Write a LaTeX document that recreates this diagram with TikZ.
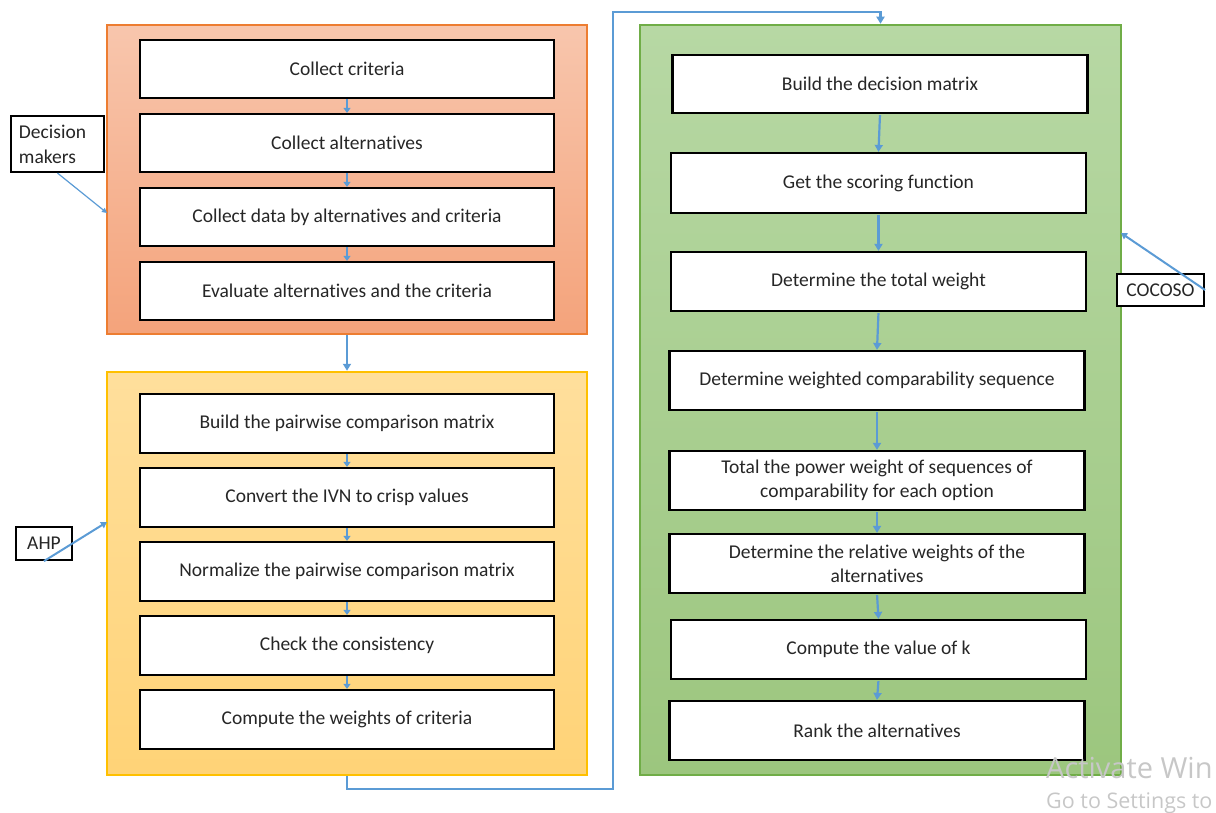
\documentclass[tikz,border=0pt]{standalone}
\usepackage{fontspec}
\setmainfont{Carlito}[Ligatures=NoCommon]
\newfontfamily\wmfont{Open Sans}
\usetikzlibrary{arrows.meta}
\definecolor{oline}{HTML}{ED7D31}
\definecolor{otop}{HTML}{F8C6AD}
\definecolor{obot}{HTML}{F4A37B}
\definecolor{yline}{HTML}{FFC000}
\definecolor{ytop}{HTML}{FFDF9C}
\definecolor{ybot}{HTML}{FFD377}
\definecolor{gline}{HTML}{70AD47}
\definecolor{gtop}{HTML}{B7D8A4}
\definecolor{gbot}{HTML}{9CC67E}
\definecolor{conn}{HTML}{5B9BD5}
\definecolor{txt}{HTML}{262626}
\tikzset{
  frame/.style={draw, line width=2.5pt, minimum width=480pt, inner sep=0pt},
  ibox/.style={draw=black, fill=white, line width=2.2pt, minimum width=414pt, minimum height=58pt,
    inner sep=0pt, text=txt, font=\fontsize{19.5}{24}\selectfont, align=center},
  lbox/.style={draw=black, fill=white, line width=2.2pt, inner sep=0pt, text=txt,
    font=\fontsize{19.5}{25}\selectfont},
  arr/.style={draw=conn, line width=2.2pt, -{Triangle[width=8pt,length=7pt]}},
  tarr/.style={draw=conn, line width=1.2pt, -{Triangle[width=5pt,length=5pt]}},
  wm/.style={anchor=base west, inner sep=0pt, text=black!22}
}
\begin{document}
\begin{tikzpicture}[x=1pt,y=-1pt]
\useasboundingbox (0,0) rectangle (1216,813);
% frames
\node[frame, draw=oline, top color=otop, bottom color=obot, minimum height=309pt] (fo) at (347,179.5) {};
\node[frame, draw=yline, top color=ytop, bottom color=ybot, minimum height=403pt] (fy) at (347,573.5) {};
\node[frame, draw=gline, top color=gtop, bottom color=gbot, minimum width=481pt, minimum height=750pt] (fg) at (880.5,400) {};
% orange steps
\node[ibox] (o1) at (347,69) {Collect criteria};
\node[ibox] (o2) at (347,143) {Collect alternatives};
\node[ibox] (o3) at (347,217) {Collect data by alternatives and criteria};
\node[ibox] (o4) at (347,291) {Evaluate alternatives and the criteria};
% yellow steps
\node[ibox, minimum height=59pt] (y1) at (347,423.5) {Build the pairwise comparison matrix};
\node[ibox, minimum height=59pt] (y2) at (347,497.5) {Convert the IVN to crisp values};
\node[ibox, minimum height=59pt] (y3) at (347,571.5) {Normalize the pairwise comparison matrix};
\node[ibox, minimum height=59pt] (y4) at (347,645.5) {Check the consistency};
\node[ibox, minimum height=59pt] (y5) at (347,719.5) {Compute the weights of criteria};
% green steps
\node[ibox, minimum width=415pt] (g1) at (880,84) {Build the decision matrix};
\node[ibox, minimum width=415pt, minimum height=60pt] (g2) at (878.5,183) {Get the scoring function};
\node[ibox, minimum width=415pt, minimum height=59pt] (g3) at (878.5,281.5) {Determine the total weight};
\node[ibox, minimum width=415pt, minimum height=59pt] (g4) at (877,380.5) {Determine weighted comparability sequence};
\node[ibox, minimum width=415pt, minimum height=59pt] (g5) at (877,480.5) {Total the power weight of sequences of\\comparability for each option};
\node[ibox, minimum width=415pt, minimum height=59pt] (g6) at (877,563.5) {Determine the relative weights of the\\alternatives};
\node[ibox, minimum width=415pt, minimum height=59pt] (g7) at (878.5,649.5) {Compute the value of k};
\node[ibox, minimum width=415pt, minimum height=59pt] (g8) at (877,730.5) {Rank the alternatives};
% arrows inside frames
\foreach \a/\b in {o1/o2,o2/o3,o3/o4,y1/y2,y2/y3,y3/y4,y4/y5}
  \draw[arr, -{Triangle[width=7pt,length=5pt]}] (\a.south) -- (\b.north);
\foreach \a/\b in {g1/g2,g2/g3,g3/g4,g4/g5,g5/g6,g6/g7,g7/g8}
  \draw[arr, shorten <=1pt] (\a.south) -- (\b.north);
% between frames
\draw[arr] (fo.south) -- (fy.north);
\draw[draw=conn, line width=2.2pt, -{Triangle[width=8pt,length=7pt]}]
  (fy.south) -- ++(0,13) -| (613,12) -| (fg.north);
% side labels
\node[lbox, minimum width=93pt, minimum height=56pt, align=left, text width=77pt] (dm) at (57.5,144) {Decision\\makers};
\coordinate (dmend) at (107,213);
\draw[tarr] (dm.south) -- (dmend);
\node[lbox, minimum width=56pt, minimum height=33pt] (ahp) at (44,543.5) {AHP};
\coordinate (ahpend) at (107,522);
\draw[arr, line width=2pt, -{Triangle[width=7pt,length=6pt]}] (ahp.south) -- (ahpend);
\node[lbox, minimum width=87pt, minimum height=32pt] (coc) at (1160.5,290) {COCOSO};
\coordinate (cocend) at (1121,233);
\draw[arr, line width=2pt, -{Triangle[width=7pt,length=6pt]}] (coc.east) -- (cocend);
% watermark
\node[wm, font=\wmfont\fontsize{29}{34}\selectfont] (wm1) at (1046,778) {Activate Win};
\node[wm, font=\wmfont\fontsize{21.5}{26}\selectfont] (wm2) at (1046,808) {Go to Settings to};
\end{tikzpicture}
\end{document}
